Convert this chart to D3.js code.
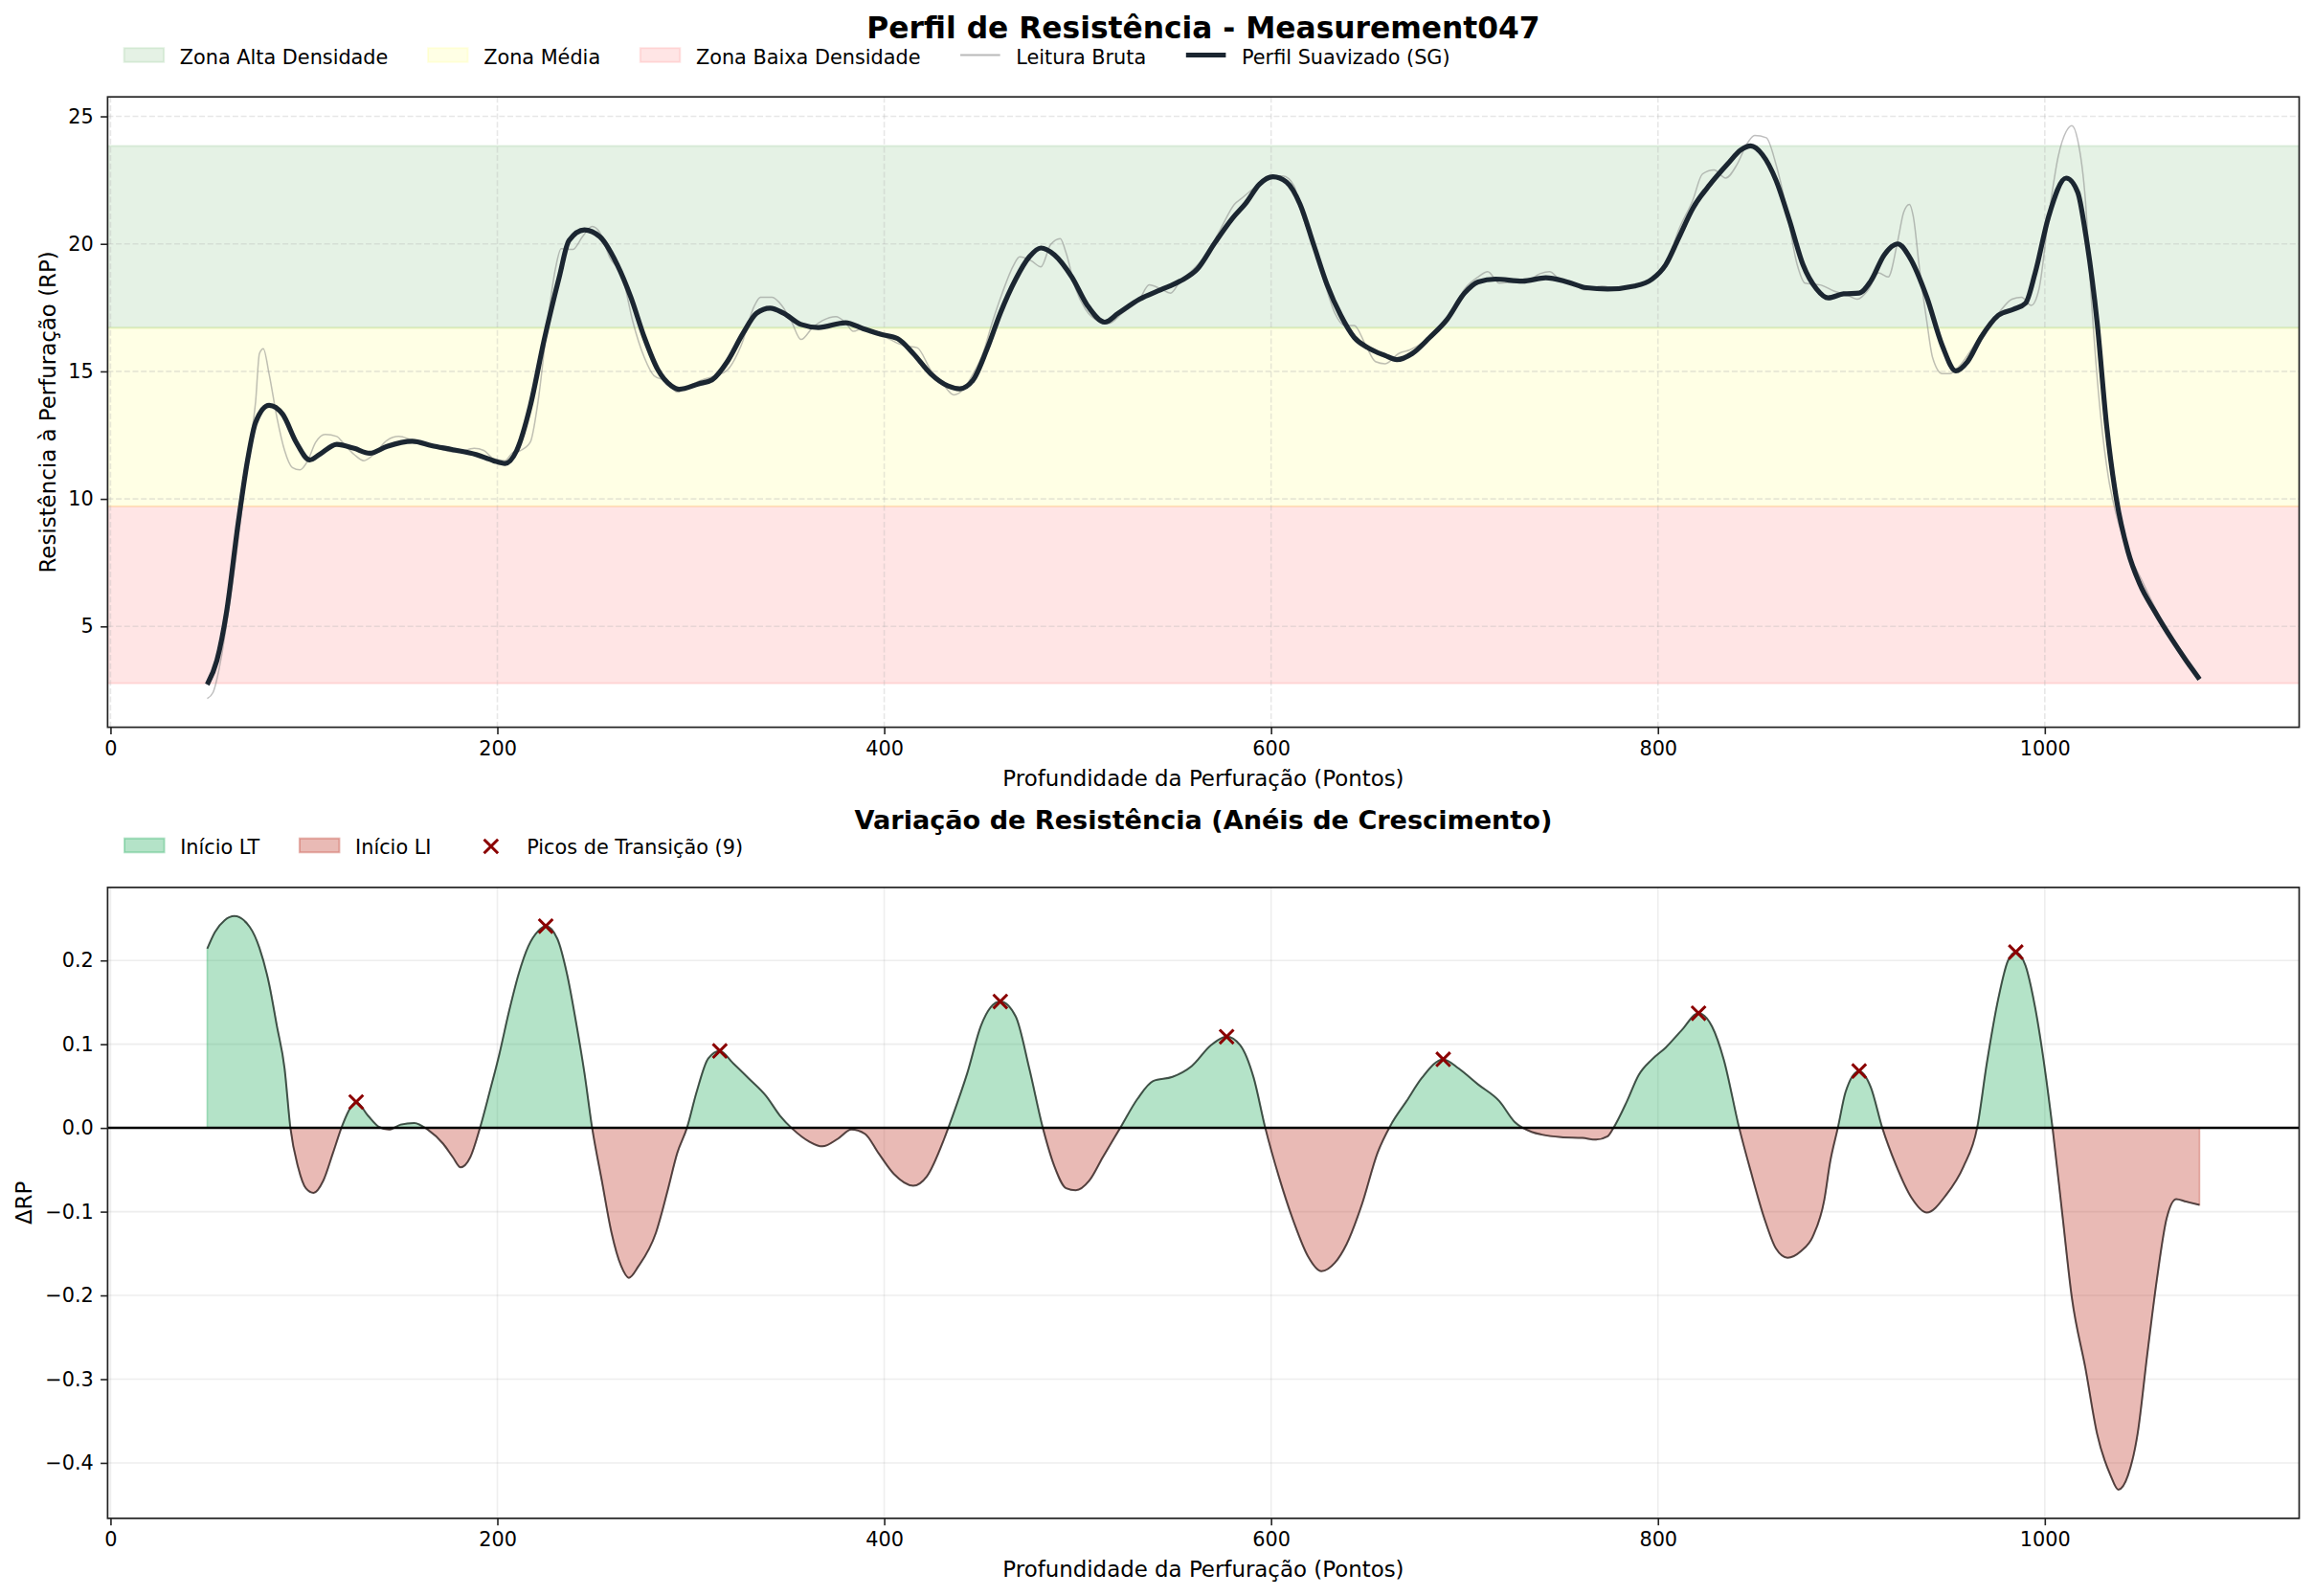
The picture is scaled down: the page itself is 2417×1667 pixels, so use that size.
<!DOCTYPE html>
<html>
<head>
<meta charset="utf-8">
<script src="https://cdn.jsdelivr.net/npm/d3@7"></script>
<style>
  body { margin: 0; background: #fff; }
  text { font-family: "DejaVu Sans", sans-serif; fill: #000; }
</style>
</head>
<body>
<svg id="chart"></svg>
<script>
// Smoothed profile (SG)
const smoothX = [50,55,60,66,71,75,82,89,96,103,108,117,126,134,143,156,166,177,189,198,204,210,217,224,232,237,245,253,262,269,276,283,290,294,304,311,319,327,334,341,348,357,366,380,389,398,407,415,424,433,439,446,453,460,468,475,481,488,497,505,514,521,532,543,553,562,571,580,587,594,601,608,615,622,629,636,643,650,659,665,673,682,691,700,707,716,730,742,753,763,774,788,797,804,811,818,827,836,843,848,854,861,868,875,882,888,896,904,910,917,924,930,939,947,954,960,967,976,984,990,995,1002,1011,1017,1021,1027,1032,1037,1043,1049,1057,1066,1073,1080];
const smoothY = [2.72,3.67,5.57,9.05,11.58,13.0,13.67,13.32,12.22,11.53,11.74,12.14,11.98,11.79,12.06,12.26,12.09,11.93,11.74,11.50,11.39,11.9,13.64,16.17,18.70,20.13,20.55,20.28,19.18,17.91,16.33,15.06,14.43,14.30,14.51,14.67,15.4,16.49,17.28,17.48,17.28,16.84,16.72,16.91,16.68,16.46,16.28,15.70,14.91,14.43,14.32,14.67,15.85,17.28,18.62,19.49,19.84,19.57,18.70,17.59,16.93,17.28,17.83,18.20,18.54,19.02,20.05,21.0,21.6,22.34,22.63,22.42,21.55,19.97,18.39,17.2,16.33,15.93,15.62,15.46,15.70,16.33,17.04,18.07,18.51,18.62,18.54,18.67,18.51,18.28,18.23,18.35,18.62,19.18,20.28,21.39,22.34,23.13,23.69,23.84,23.5,22.5,20.92,19.18,18.23,17.88,18.04,18.07,18.54,19.57,20.0,19.49,17.91,16.01,15.02,15.38,16.33,17.2,17.44,17.67,18.86,21.08,22.58,22.03,20.44,16.96,12.85,10.0,7.94,6.68,5.57,4.46,3.67,2.93];

// Raw reading
const rawX = [50,53,57,60,66,71,75,77,79,82,86,90,94,98,102,106,111,117,120,126,131,136,143,149,156,166,179,188,193,198,204,208,212,217,221,226,230,233,239,244,249,253,258,265,270,276,281,288,293,299,306,313,319,326,333,336,342,347,352,357,363,368,375,380,384,389,394,401,410,417,424,431,436,441,446,451,456,461,467,470,476,481,486,491,494,499,504,511,516,523,532,537,543,548,553,560,567,574,581,585,591,599,606,612,615,621,628,633,638,643,649,654,659,666,672,679,686,693,700,707,712,718,725,732,739,744,749,756,762,771,778,788,797,804,811,818,823,829,835,841,846,850,856,861,866,872,876,884,891,898,903,909,914,919,924,927,930,932,935,939,942,947,951,956,962,969,976,983,988,993,997,1002,1007,1011,1014,1017,1021,1024,1029,1033,1037,1043,1050,1055,1066,1080];
const rawY = [2.17,2.41,3.67,5.1,8.4,11.6,13.8,15.7,15.89,14.9,13.2,11.9,11.23,11.14,11.5,12.21,12.53,12.45,12.22,11.74,11.5,11.74,12.3,12.45,12.3,12.06,11.82,11.98,11.9,11.58,11.5,11.82,11.9,12.22,13.8,16.96,19.02,19.81,19.78,20.28,20.68,20.44,19.49,18.62,16.96,15.54,14.83,14.59,14.19,14.43,14.67,14.83,15.06,16.01,17.59,17.91,17.91,17.59,16.96,16.25,16.72,16.99,17.15,16.91,16.57,16.68,16.57,16.33,16.01,15.93,15.06,14.43,14.08,14.30,14.91,15.70,16.96,18.07,19.18,19.49,19.34,19.1,19.97,20.21,19.65,18.23,17.44,16.96,16.88,17.28,17.83,18.39,18.23,18.07,18.54,19.02,19.65,20.6,21.55,21.8,22.18,22.66,22.66,22.26,21.39,20.13,18.39,17.28,16.8,16.8,16.01,15.38,15.3,15.70,15.85,16.17,16.65,17.28,18.23,18.70,18.91,18.46,18.51,18.54,18.83,18.91,18.62,18.46,18.2,18.35,18.26,18.39,18.62,19.18,20.6,21.71,22.74,22.9,22.58,23.13,23.92,24.25,24.16,23.13,21.55,19.18,18.46,18.39,18.15,17.99,17.83,18.23,18.86,18.70,20.13,21.23,21.55,21.08,19.18,16.96,15.54,14.91,14.91,15.22,15.85,16.65,17.28,17.83,17.91,17.59,18.23,21.08,23.45,24.4,24.64,24.08,21.71,17.91,13.16,10.79,9.37,7.94,6.84,6.04,4.46,2.93];

// Variation (delta RP)
const deltaX = [50,54,59,64,72,77,82,86,90,93,97,101,105,110,115,120,124,127,133,139,144,150,157,164,172,177,181,186,191,196,201,206,211,216,221,225,231,236,241,245,249,254,259,264,268,273,282,288,293,298,303,309,315,322,330,339,346,353,361,368,376,383,390,397,405,415,422,431,435,443,450,455,460,468,475,482,488,494,499,506,513,522,531,539,549,559,569,577,584,591,597,604,612,619,626,633,639,647,655,662,670,678,689,697,707,718,726,735,740,750,761,768,774,777,784,790,797,804,812,821,828,834,842,848,855,861,867,874,880,886,889,893,897,904,910,916,923,931,939,949,958,965,970,976,981,985,990,995,1000,1004,1009,1014,1021,1027,1034,1038,1043,1048,1053,1058,1063,1068,1073,1080];
const deltaY = [0.214,0.234,0.248,0.253,0.24,0.215,0.172,0.122,0.071,0.0,-0.047,-0.072,-0.0775,-0.063,-0.03,0.004,0.024,0.031,0.015,0.001,-0.002,0.004,0.006,-0.002,-0.019,-0.035,-0.047,-0.035,0.0,0.043,0.088,0.139,0.184,0.217,0.235,0.241,0.226,0.184,0.122,0.066,0.0,-0.063,-0.125,-0.165,-0.179,-0.165,-0.125,-0.075,-0.03,0.0,0.043,0.083,0.092,0.077,0.059,0.038,0.015,-0.002,-0.016,-0.022,-0.013,-0.002,-0.007,-0.03,-0.055,-0.069,-0.058,-0.013,0.012,0.066,0.122,0.144,0.151,0.133,0.071,0.0,-0.046,-0.072,-0.0745,-0.063,-0.035,0.0,0.035,0.056,0.061,0.074,0.099,0.109,0.099,0.06,0.0,-0.058,-0.114,-0.153,-0.171,-0.161,-0.139,-0.091,-0.03,0.004,0.032,0.06,0.082,0.071,0.052,0.032,0.007,-0.005,-0.008,-0.011,-0.012,-0.014,-0.01,0.0,0.032,0.063,0.082,0.096,0.116,0.137,0.121,0.082,0.0,-0.052,-0.108,-0.144,-0.155,-0.147,-0.13,-0.086,-0.041,0.0,0.043,0.068,0.049,0.0,-0.044,-0.083,-0.101,-0.08,-0.046,0.0,0.077,0.155,0.2,0.21,0.194,0.144,0.071,0.0,-0.102,-0.203,-0.287,-0.365,-0.415,-0.432,-0.415,-0.365,-0.27,-0.18,-0.108,-0.085,-0.088,-0.092];

// Transition peaks
const peakX = [127,225,315,460,577,689,821,904,985];
const peakY = [0.031,0.241,0.092,0.151,0.109,0.082,0.137,0.068,0.21];

// Density zones (lower bound, upper bound)
const zoneBounds = [2.77, 9.71, 16.71, 23.84];
const zoneNames = ["Zona Baixa Densidade", "Zona Média", "Zona Alta Densidade"];
const zoneColors = ["red", "yellow", "green"];

const xTicks = [0, 200, 400, 600, 800, 1000];
const y1Ticks = [5, 10, 15, 20, 25];
const y2Ticks = [-0.4, -0.3, -0.2, -0.1, 0.0, 0.1, 0.2];

const W = 2417, H = 1667;
const svg = d3.select("#chart").attr("width", W).attr("height", H);
svg.append("rect").attr("width", W).attr("height", H).attr("fill", "#fff");

const L = 112.4, R = 2401.5;
const ax1 = { t: 101.2, b: 759.6 };
const ax2 = { t: 926.9, b: 1585.9 };
const FS = 20.8;

function pad(ext) { const r = ext[1] - ext[0]; return [ext[0] - 0.05 * r, ext[1] + 0.05 * r]; }

const x = d3.scaleLinear().domain(pad(d3.extent(smoothX.concat(rawX, deltaX)))).range([L, R]);
const y1 = d3.scaleLinear().domain(pad(d3.extent(smoothY.concat(rawY)))).range([ax1.b, ax1.t]);
const y2 = d3.scaleLinear().domain(pad(d3.extent(deltaY))).range([ax2.b, ax2.t]);

const defs = svg.append("defs");
defs.append("clipPath").attr("id", "clip1").append("rect")
  .attr("x", L).attr("y", ax1.t).attr("width", R - L).attr("height", ax1.b - ax1.t);
defs.append("clipPath").attr("id", "clipPos").append("rect")
  .attr("x", L).attr("y", ax2.t).attr("width", R - L).attr("height", y2(0) - ax2.t);
defs.append("clipPath").attr("id", "clipNeg").append("rect")
  .attr("x", L).attr("y", y2(0)).attr("width", R - L).attr("height", ax2.b - y2(0));
defs.append("clipPath").attr("id", "clip2").append("rect")
  .attr("x", L).attr("y", ax2.t).attr("width", R - L).attr("height", ax2.b - ax2.t);

// ---------- Top panel ----------
const p1 = svg.append("g").attr("clip-path", "url(#clip1)");

// zones
zoneColors.forEach((c, i) => {
  p1.append("rect")
    .attr("x", L - 5).attr("width", R - L + 10)
    .attr("y", y1(zoneBounds[i + 1])).attr("height", y1(zoneBounds[i]) - y1(zoneBounds[i + 1]))
    .attr("fill", c).attr("fill-opacity", 0.1)
    .attr("stroke", c).attr("stroke-opacity", 0.1).attr("stroke-width", 2);
});

// dashed grid
p1.selectAll(".gx").data(xTicks).enter().append("line")
  .attr("x1", d => x(d)).attr("x2", d => x(d)).attr("y1", ax1.t).attr("y2", ax1.b)
  .attr("stroke", "#b0b0b0").attr("stroke-opacity", 0.3).attr("stroke-width", 1.6).attr("stroke-dasharray", "6,2.7");
p1.selectAll(".gy").data(y1Ticks).enter().append("line")
  .attr("x1", L).attr("x2", R).attr("y1", d => y1(d)).attr("y2", d => y1(d))
  .attr("stroke", "#b0b0b0").attr("stroke-opacity", 0.3).attr("stroke-width", 1.6).attr("stroke-dasharray", "6,2.7");

const rawPts = rawX.map((v, i) => [v, rawY[i]]);
const smPts = smoothX.map((v, i) => [v, smoothY[i]]);

p1.append("path").datum(rawPts)
  .attr("d", d3.line().x(d => x(d[0])).y(d => y1(d[1])).curve(d3.curveMonotoneX))
  .attr("fill", "none").attr("stroke", "#808080").attr("stroke-opacity", 0.5).attr("stroke-width", 1.5);

p1.append("path").datum(smPts)
  .attr("d", d3.line().x(d => x(d[0])).y(d => y1(d[1])).curve(d3.curveMonotoneX))
  .attr("fill", "none").attr("stroke", "#1b2631").attr("stroke-width", 5.2)
  .attr("stroke-linejoin", "round");

// ---------- Bottom panel ----------
const p2 = svg.append("g").attr("clip-path", "url(#clip2)");

p2.selectAll(".gx").data(xTicks).enter().append("line")
  .attr("x1", d => x(d)).attr("x2", d => x(d)).attr("y1", ax2.t).attr("y2", ax2.b)
  .attr("stroke", "#b0b0b0").attr("stroke-opacity", 0.22).attr("stroke-width", 1.6);
p2.selectAll(".gy").data(y2Ticks).enter().append("line")
  .attr("x1", L).attr("x2", R).attr("y1", d => y2(d)).attr("y2", d => y2(d))
  .attr("stroke", "#b0b0b0").attr("stroke-opacity", 0.22).attr("stroke-width", 1.6);

const dPts = deltaX.map((v, i) => [v, deltaY[i]]);
const area = d3.area().x(d => x(d[0])).y0(y2(0)).y1(d => y2(d[1])).curve(d3.curveMonotoneX);

p2.append("g").attr("clip-path", "url(#clipPos)").append("path").datum(dPts)
  .attr("d", area).attr("fill", "#27ae60").attr("fill-opacity", 0.35)
  .attr("stroke", "#27ae60").attr("stroke-opacity", 0.35).attr("stroke-width", 1.6);
p2.append("g").attr("clip-path", "url(#clipNeg)").append("path").datum(dPts)
  .attr("d", area).attr("fill", "#c0392b").attr("fill-opacity", 0.35)
  .attr("stroke", "#c0392b").attr("stroke-opacity", 0.35).attr("stroke-width", 1.6);

p2.append("path").datum(dPts)
  .attr("d", d3.line().x(d => x(d[0])).y(d => y2(d[1])).curve(d3.curveMonotoneX))
  .attr("fill", "none").attr("stroke", "#1a1a1a").attr("stroke-opacity", 0.72).attr("stroke-width", 2);

p2.append("line").attr("x1", L).attr("x2", R).attr("y1", y2(0)).attr("y2", y2(0))
  .attr("stroke", "#000").attr("stroke-width", 2.5);

function xMark(g, cx, cy, s) {
  g.append("path")
    .attr("d", `M${cx - s},${cy - s}L${cx + s},${cy + s}M${cx - s},${cy + s}L${cx + s},${cy - s}`)
    .attr("stroke", "#8b0000").attr("stroke-width", 3).attr("fill", "none");
}
peakX.forEach((v, i) => xMark(p2, x(v), y2(peakY[i]), 7.3));

// ---------- Axes ----------
function styleAxis(g) {
  g.select(".domain").remove();
  g.selectAll(".tick line").attr("stroke", "#222").attr("stroke-width", 1.6);
  g.selectAll(".tick text").style("font-size", FS + "px").style("font-family", "DejaVu Sans").attr("fill", "#000");
}

[[ax1, y1, y1Ticks, d3.format("d")], [ax2, y2, y2Ticks, d3.format(".1f")]].forEach(([ax, ys, yt, fmt]) => {
  svg.append("g").attr("transform", `translate(0,${ax.b})`)
    .call(d3.axisBottom(x).tickValues(xTicks).tickSize(7.3).tickPadding(7.3).tickFormat(d3.format("d")))
    .call(styleAxis);
  svg.append("g").attr("transform", `translate(${L},0)`)
    .call(d3.axisLeft(ys).tickValues(yt).tickSize(7.3).tickPadding(7.3).tickFormat(fmt))
    .call(styleAxis);
  svg.append("rect").attr("x", L).attr("y", ax.t).attr("width", R - L).attr("height", ax.b - ax.t)
    .attr("fill", "none").attr("stroke", "#222").attr("stroke-width", 1.7);
  svg.append("text").attr("x", (L + R) / 2).attr("y", ax.b + 53)
    .attr("text-anchor", "middle").attr("dominant-baseline", "central")
    .style("font-size", "22.9px").text("Profundidade da Perfuração (Pontos)");
});

svg.append("text").attr("transform", `translate(49.6,${(ax1.t + ax1.b) / 2}) rotate(-90)`)
  .attr("text-anchor", "middle").attr("dominant-baseline", "central")
  .style("font-size", "22.9px").text("Resistência à Perfuração (RP)");
svg.append("text").attr("transform", `translate(24.5,${(ax2.t + ax2.b) / 2}) rotate(-90)`)
  .attr("text-anchor", "middle").attr("dominant-baseline", "central")
  .style("font-size", "22.9px").text("ΔRP");

// titles
svg.append("text").attr("x", (L + R) / 2).attr("y", 28.5)
  .attr("text-anchor", "middle").attr("dominant-baseline", "central")
  .style("font-size", "31.3px").style("font-weight", "bold")
  .text("Perfil de Resistência - Measurement047");
svg.append("text").attr("x", (L + R) / 2).attr("y", 856.5)
  .attr("text-anchor", "middle").attr("dominant-baseline", "central")
  .style("font-size", "27.1px").style("font-weight", "bold")
  .text("Variação de Resistência (Anéis de Crescimento)");

// ---------- Legends ----------
function legend(items, x0, yc) {
  let xx = x0;
  items.forEach(it => {
    const g = svg.append("g");
    if (it.type === "patch") {
      g.append("rect").attr("x", xx).attr("y", yc - 8.3).attr("width", 41.6).attr("height", 14.6)
        .attr("fill", it.color).attr("fill-opacity", it.op)
        .attr("stroke", it.color).attr("stroke-opacity", it.op).attr("stroke-width", 2);
    } else if (it.type === "line") {
      g.append("line").attr("x1", xx).attr("x2", xx + 41.6).attr("y1", yc - 1).attr("y2", yc - 1)
        .attr("stroke", it.color).attr("stroke-opacity", it.op).attr("stroke-width", it.w);
    } else {
      xMark(g, xx + 20.8, yc, 7.3);
    }
    const t = g.append("text").attr("x", xx + 41.6 + 16.6).attr("y", yc + 1)
      .attr("dominant-baseline", "central").style("font-size", FS + "px").text(it.label);
    xx += 41.6 + 16.6 + t.node().getComputedTextLength() + 41.6;
  });
}

legend([
  { type: "patch", color: zoneColors[2], op: 0.1, label: zoneNames[2] },
  { type: "patch", color: zoneColors[1], op: 0.1, label: zoneNames[1] },
  { type: "patch", color: zoneColors[0], op: 0.1, label: zoneNames[0] },
  { type: "line", color: "#808080", op: 0.55, w: 1.8, label: "Leitura Bruta" },
  { type: "line", color: "#1b2631", op: 1, w: 5.2, label: "Perfil Suavizado (SG)" }
], 129.6, 58.5);

legend([
  { type: "patch", color: "#27ae60", op: 0.35, label: "Início LT" },
  { type: "patch", color: "#c0392b", op: 0.35, label: "Início LI" },
  { type: "marker", label: `Picos de Transição (${peakX.length})` }
], 130, 884);
</script>
</body>
</html>
